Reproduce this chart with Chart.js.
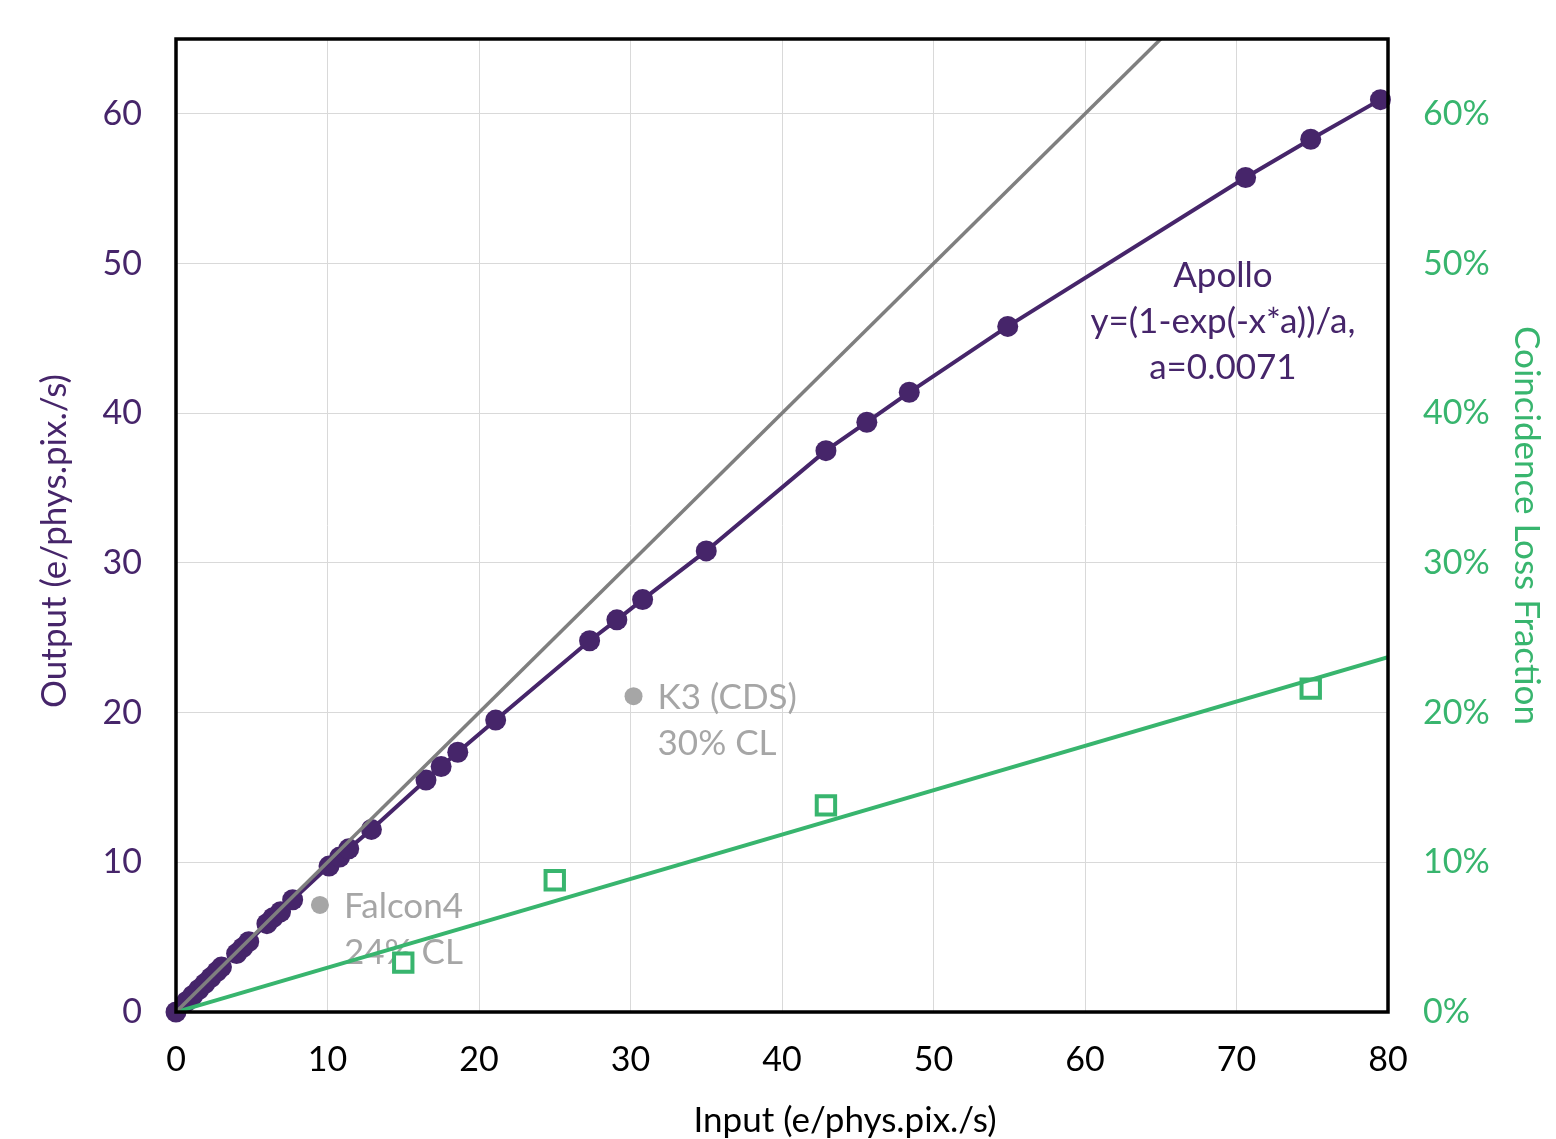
<!DOCTYPE html>
<html>
<head>
<meta charset="utf-8">
<script src="https://cdn.jsdelivr.net/npm/chart.js@4.4.1/dist/chart.umd.min.js"></script>
<style>
  html, body { margin: 0; padding: 0; background: #fff; }
  #wrap { width: 1556px; height: 1139px; }
</style>
</head>
<body>
<div id="wrap"><canvas id="c" width="1556" height="1139"></canvas></div>
<script>
// Apollo measurements (input vs output, e/phys.pix./s)
const apolloIn  = [0, 0.7, 1.1, 1.5, 1.9, 2.3, 2.7, 3.0, 4.0, 4.4, 4.8, 6.0, 6.4, 6.9, 7.7, 10.1, 10.8, 11.4, 12.9, 16.5, 17.5, 18.6, 21.1, 27.3, 29.1, 30.8, 35.0, 42.9, 45.6, 48.4, 54.9, 70.6, 74.9, 79.5];
const apolloOut = [0, 0.7, 1.1, 1.5, 1.9, 2.3, 2.7, 3.0, 3.9, 4.3, 4.7, 5.9, 6.3, 6.7, 7.5, 9.75, 10.35, 10.9, 12.2, 15.5, 16.4, 17.35, 19.5, 24.8, 26.2, 27.55, 30.8, 37.5, 39.4, 41.4, 45.8, 55.75, 58.3, 60.95];

// ideal response y = x
const idealIn  = [0, 65];
const idealOut = [0, 65];

// coincidence loss fraction (%)
const clIn   = [15, 25, 42.9, 74.9];
const clFrac = [3.3, 8.8, 13.8, 21.6];
const clFitIn   = [0, 80];
const clFitFrac = [0, 23.7];

// other detectors
const otherNames = ['Falcon4', 'K3 (CDS)'];
const otherCL    = ['24% CL', '30% CL'];
const otherIn    = [9.5, 30.2];
const otherOut   = [7.15, 21.1];

const xTicks = [0, 10, 20, 30, 40, 50, 60, 70, 80];

const PURPLE = '#46256a';
const GREEN = '#38b56e';
const GREY = '#a6a6a6';
const FONT = 'Lato, "Open Sans", sans-serif';

const pts = (xs, ys) => xs.map((x, i) => ({x: x, y: ys[i]}));

const frame = {
  id: 'frame',
  beforeDatasetsDraw(chart) {
    const ctx = chart.ctx, xs = chart.scales.x, ys = chart.scales.y;
    ctx.save();
    ctx.font = '35px ' + FONT;
    ctx.fillStyle = GREY;
    ctx.textAlign = 'left';
    ctx.textBaseline = 'middle';
    otherNames.forEach((n, i) => {
      const px = xs.getPixelForValue(otherIn[i]) + 24;
      const py = ys.getPixelForValue(otherOut[i]);
      ctx.fillText(n, px, py + 2);
      ctx.fillText(otherCL[i], px, py + 48);
    });
    ctx.fillStyle = PURPLE;
    ctx.textAlign = 'center';
    const ax = xs.getPixelForValue(69.1);
    const ay = ys.getPixelForValue(49.2);
    ['Apollo', 'y=(1-exp(-x*a))/a,', 'a=0.0071'].forEach((t, i) => {
      ctx.fillText(t, ax, ay + i * 46);
    });
    ctx.restore();
  },
  afterDraw(chart) {
    const a = chart.chartArea, ctx = chart.ctx;
    ctx.save();
    ctx.strokeStyle = '#000';
    ctx.lineWidth = 3.5;
    ctx.strokeRect(a.left, a.top, a.right - a.left, a.bottom - a.top);
    // axis titles (Excel placed them off-centre)
    ctx.font = '35px ' + FONT;
    ctx.textAlign = 'center';
    ctx.textBaseline = 'middle';
    ctx.fillStyle = '#000';
    ctx.fillText('Input (e/phys.pix./s)', 845, 1121);
    ctx.translate(55, 541);
    ctx.rotate(-Math.PI / 2);
    ctx.fillStyle = PURPLE;
    ctx.fillText('Output (e/phys.pix./s)', 0, 0);
    ctx.restore();
  }
};

const fitV = w => s => { s.width = w; s.paddingTop = 0; s.paddingBottom = 0; };

new Chart(document.getElementById('c'), {
  type: 'scatter',
  data: {
    datasets: [
      { data: pts(idealIn, idealOut), showLine: true, borderColor: '#7f7f7f', borderWidth: 3.5, pointRadius: 0, yAxisID: 'y' },
      { data: pts(clFitIn, clFitFrac), showLine: true, borderColor: GREEN, borderWidth: 4, pointRadius: 0, yAxisID: 'y2' },
      { data: pts(clIn, clFrac), showLine: false, pointStyle: 'rect', pointRadius: 13, borderColor: GREEN, borderWidth: 4, backgroundColor: '#fff', yAxisID: 'y2', clip: false },
      { data: pts(otherIn, otherOut), showLine: false, pointRadius: 9, backgroundColor: GREY, borderWidth: 0, yAxisID: 'y' },
      { data: pts(apolloIn, apolloOut), showLine: true, borderColor: PURPLE, borderWidth: 4, pointRadius: 10.5, backgroundColor: PURPLE, pointBorderWidth: 0, yAxisID: 'y', clip: false }
    ]
  },
  options: {
    responsive: false,
    animation: false,
    layout: { padding: { top: 39, left: 0, right: 0, bottom: 0 } },
    plugins: { legend: { display: false }, tooltip: { enabled: false } },
    scales: {
      x: {
        type: 'linear', min: 0, max: 80,
        afterBuildTicks: s => { s.ticks = xTicks.map(v => ({value: v})); },
        afterFit: s => { s.height = 127; },
        grid: { color: '#d9d9d9', drawTicks: false },
        border: { display: false },
        ticks: { color: '#000', padding: 28, font: { family: FONT, size: 34 }, maxRotation: 0 },
        title: { display: false }
      },
      y: {
        type: 'linear', position: 'left', min: 0, max: 65,
        afterFit: fitV(176),
        grid: { color: '#d9d9d9', drawTicks: false },
        border: { display: false },
        ticks: { stepSize: 10, includeBounds: false, color: PURPLE, padding: 34, font: { family: FONT, size: 34 } },
        title: { display: false }
      },
      y2: {
        type: 'linear', position: 'right', min: 0, max: 65,
        afterFit: fitV(168),
        grid: { display: false, drawTicks: false },
        border: { display: false },
        ticks: { stepSize: 10, includeBounds: false, color: GREEN, padding: 35, font: { family: FONT, size: 34 }, callback: v => v + '%' },
        title: { display: true, text: 'Coincidence Loss Fraction', color: GREEN, padding: 9, font: { family: FONT, size: 35 } }
      }
    }
  },
  plugins: [frame]
});
</script>
</body>
</html>
